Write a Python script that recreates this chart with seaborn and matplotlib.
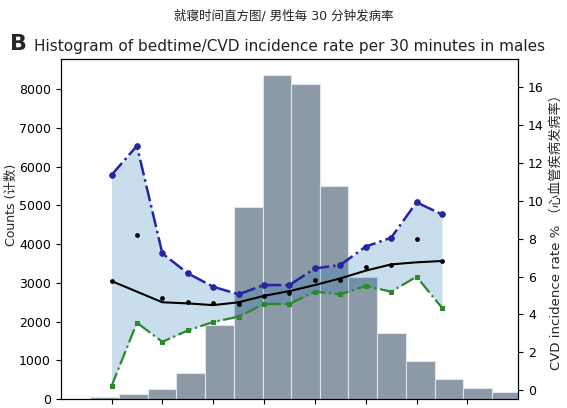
import numpy as np
import seaborn as sns
import matplotlib
matplotlib.use("Agg")
import matplotlib.pyplot as plt

# Histogram of bedtime (counts per bin), bin edges in hours after the first point
bin_edges = [-0.42, 0.14, 0.71, 1.27, 1.84, 2.40, 2.97, 3.53, 4.10,
             4.66, 5.23, 5.79, 6.36, 6.92, 7.49, 8.05]
counts = [60, 120, 260, 680, 1920, 4970, 8380, 8130, 5500,
          3160, 1700, 980, 520, 290, 190]

# CVD incidence rate per 30 minutes (%)
times = [0, 0.5, 1, 1.5, 2, 2.5, 3, 3.5, 4, 4.5, 5, 5.5, 6, 6.5]
rate = [5.76, 8.19, 4.84, 4.67, 4.58, 4.53, 4.99, 5.11, 5.81, 5.81, 6.52, 6.61, 7.96, 6.82]
smooth = [5.76, 5.20, 4.64, 4.58, 4.49, 4.64, 4.98, 5.23, 5.55, 5.90, 6.31, 6.64, 6.75, 6.82]
upper = [11.36, 12.90, 7.22, 6.17, 5.46, 5.06, 5.55, 5.55, 6.43, 6.61, 7.58, 8.05, 9.92, 9.28]
lower = [0.21, 3.56, 2.55, 3.15, 3.60, 3.88, 4.55, 4.55, 5.20, 5.06, 5.50, 5.20, 5.99, 4.35]

# hourly ticks (their labels are cropped off in the reference)
hour_ticks = [0, 1, 2, 3, 4, 5, 6, 7]

sns.set_style("ticks")
plt.rcParams['font.family'] = ['DejaVu Sans', 'Noto Sans CJK SC']
plt.rcParams['axes.edgecolor'] = 'black'
plt.rcParams['xtick.color'] = 'black'
plt.rcParams['ytick.color'] = 'black'

fig = plt.figure(figsize=(5.67, 4.08), dpi=100)
ax = fig.add_axes([0.107, 0.022, 0.807, 0.833])

centers = [(bin_edges[i] + bin_edges[i + 1]) / 2 for i in range(len(counts))]
sns.histplot(x=centers, weights=counts, bins=bin_edges, ax=ax,
             color="slategray", alpha=0.8, edgecolor="#dfe5ea", linewidth=0.8)
ax.set_xlim(-1, 8)
ax.set_ylim(0, 8780)
ax.set_xticks(hour_ticks)
ax.set_xticklabels([])
ax.set_yticks(range(0, 8001, 1000))
ax.tick_params(axis='y', labelsize=9)
ax.set_ylabel("Counts (计数)", fontsize=9)
ax.yaxis.set_label_coords(-0.094, 0.57)
ax.set_xlabel("")
ax.set_title("Histogram of bedtime/CVD incidence rate per 30 minutes in males",
             fontsize=11, color="#222222", pad=6)

ax2 = ax.twinx()
ax2.fill_between(times, lower, upper, color="#1f77b4", alpha=0.24, linewidth=0, zorder=1)
sns.lineplot(x=times, y=upper, ax=ax2, color="#2525a5", linestyle="-.", linewidth=1.8,
             marker="o", markersize=4, markeredgecolor="#2525a5", zorder=3)
sns.lineplot(x=times, y=lower, ax=ax2, color="#2a8a2a", linestyle="-.", linewidth=1.6,
             marker="s", markersize=3.5, markeredgecolor="#2a8a2a", zorder=3)
sns.lineplot(x=times, y=smooth, ax=ax2, color="black", linewidth=1.5, zorder=4)
sns.scatterplot(x=times, y=rate, ax=ax2, color="black", s=12, linewidth=0, zorder=5)
ax2.set_ylim(-0.47, 17.48)
ax2.set_yticks(range(0, 17, 2))
ax2.tick_params(axis='y', labelsize=9)
ax2.set_ylabel("CVD incidence rate % （心血管疾病发病率）", fontsize=9.5)

fig.text(0.5, 0.961, "就寝时间直方图/ 男性每 30 分钟发病率", ha="center", va="center",
         fontsize=9, color="#222222")
fig.text(0.018, 0.893, "B", fontsize=16, fontweight="bold", va="center")

fig.savefig("out.png", dpi=100)
